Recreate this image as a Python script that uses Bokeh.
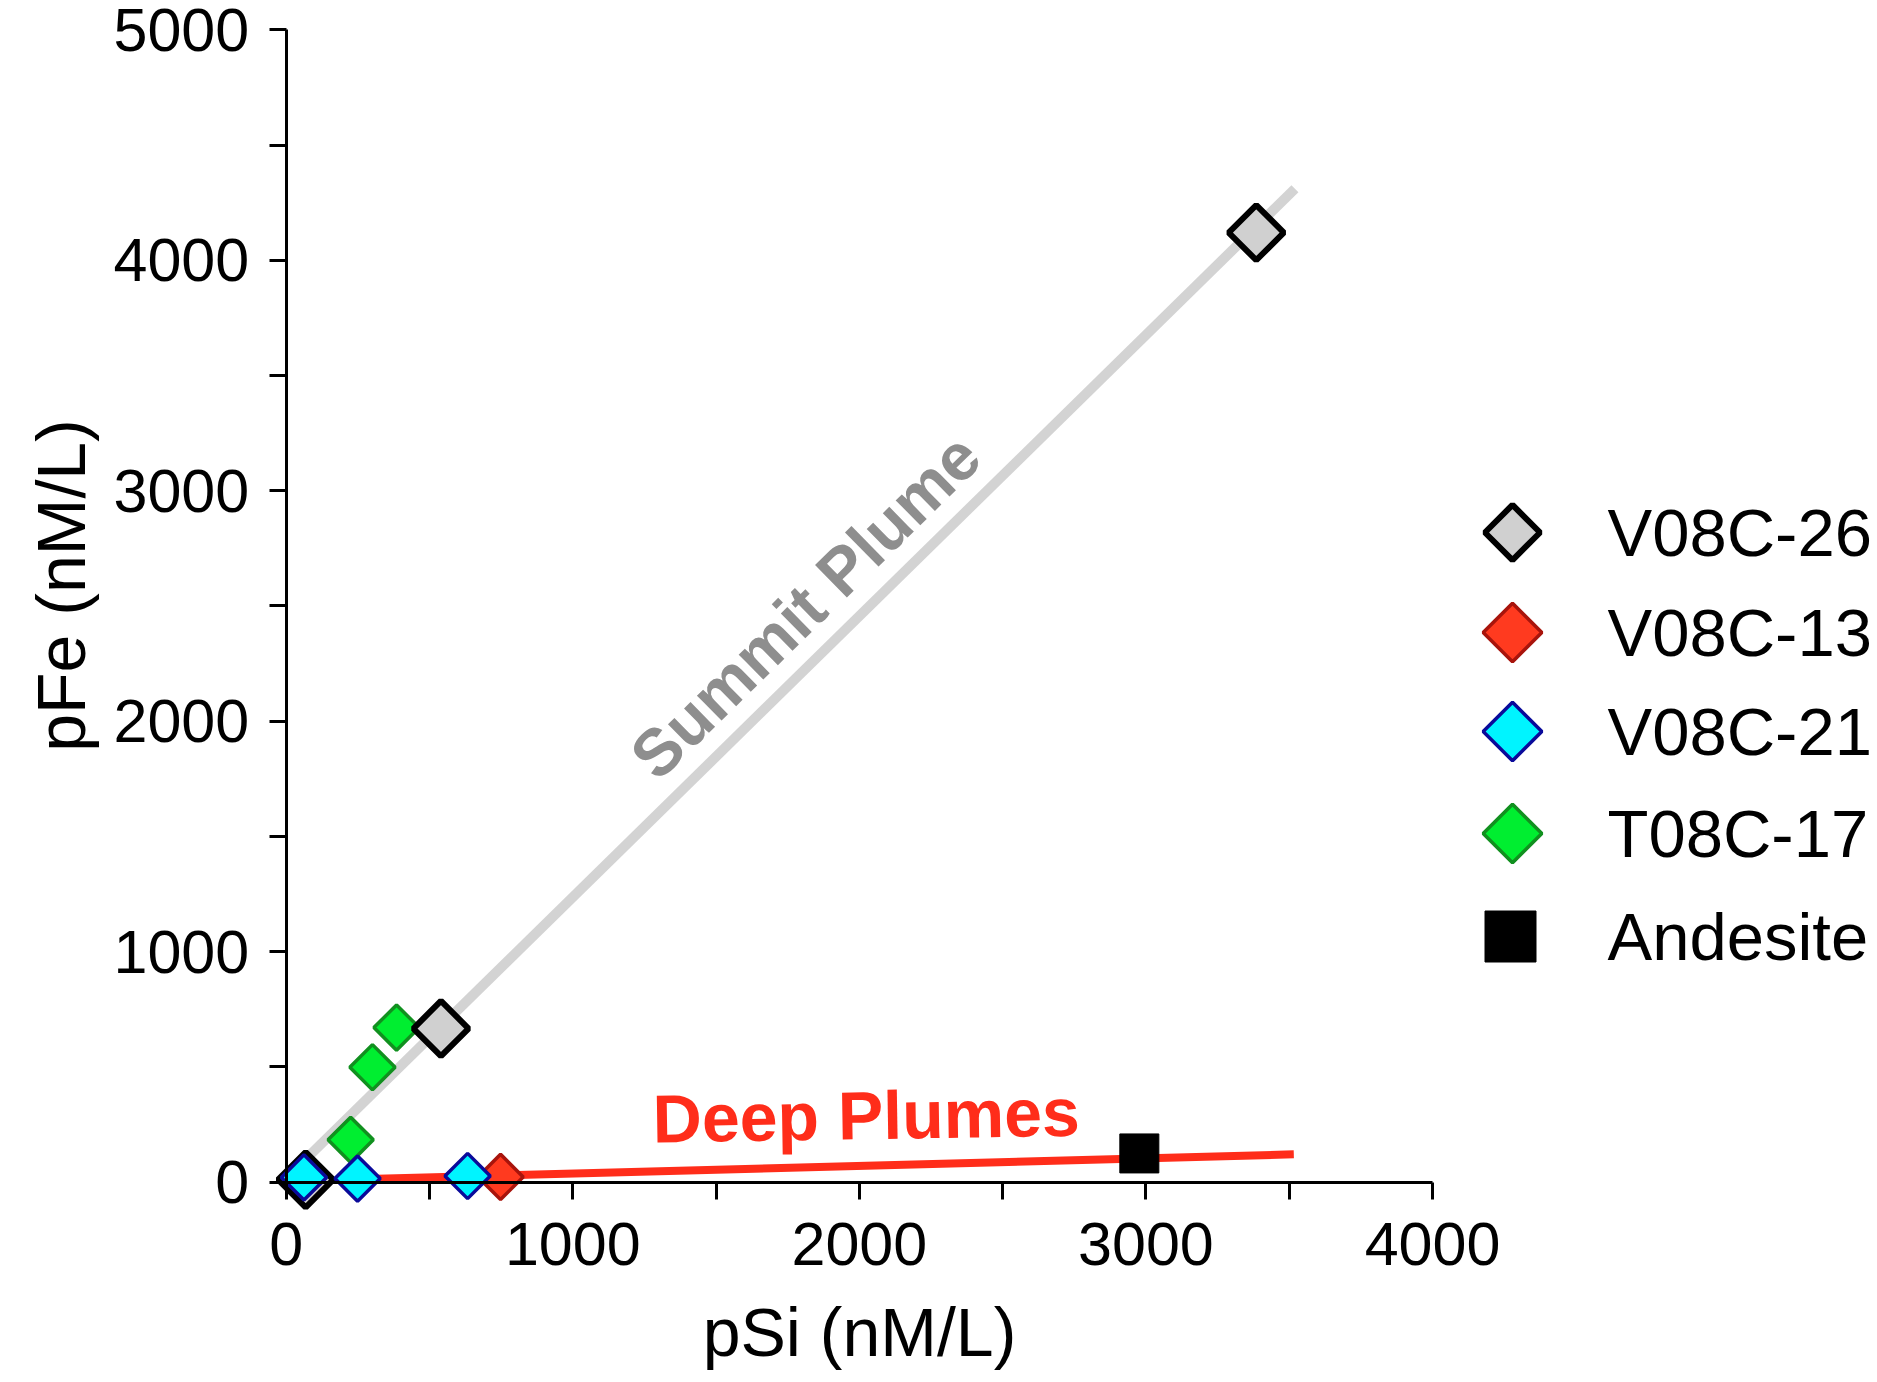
import numpy as np
from bokeh.plotting import figure
from bokeh.models import Range1d, FixedTicker
from bokeh.core.properties import value
from bokeh.embed import file_html
from bokeh.resources import INLINE

# ---- data (pSi, pFe in nM/L) ----
v26_si = [68, 540, 3385]
v26_fe = [10, 666, 4120]
v13_si = [748]
v13_fe = [22]
v21_si = [62, 249, 633]
v21_fe = [20, 15, 26]
t17_si = [225, 301, 385]
t17_fe = [183, 498, 670]
and_si = [2977]
and_fe = [124]
summit_si = [40, 3520]
summit_fe = [65, 4310]
deep_si = [250, 3516]
deep_fe = [12, 120]
x_ticks = [0, 500, 1000, 1500, 2000, 2500, 3000, 3500, 4000]
y_ticks = [0, 500, 1000, 1500, 2000, 2500, 3000, 3500, 4000, 4500, 5000]
x_labels = ["0", "", "1000", "", "2000", "", "3000", "", "4000"]
y_labels = ["0", "", "1000", "", "2000", "", "3000", "", "4000", "", "5000"]
legend_labels = ["V08C-26", "V08C-13", "V08C-21", "T08C-17", "Andesite"]

FONT = "Liberation Sans"
W, H = 1876, 1380

# frame covers the whole canvas; axes are fixed at the origin
X0PX, X4000PX = 285.7, 1432.0
Y0PX, Y5000PX = 1181.5, 29.3
kx = (X4000PX - X0PX) / 4000.0
ky = (Y0PX - Y5000PX) / 5000.0


def sx(px):
    return (px - X0PX) / kx


def sy(py):
    return (Y0PX - py) / ky


p = figure(width=W, height=H, title=None,
           x_range=Range1d(sx(0), sx(W)), y_range=Range1d(sy(H), sy(0)),
           output_backend="svg", toolbar_location=None,
           min_border=0, min_border_left=0, min_border_right=0,
           min_border_top=0, min_border_bottom=0)
p.outline_line_color = None
p.grid.visible = False
p.background_fill_color = "white"
p.border_fill_color = "white"

# trend lines
p.line(summit_si, summit_fe, line_color="#d3d3d3", line_width=10)
p.line(deep_si, deep_fe, line_color="#ff2d1a", line_width=8)

ang = np.pi / 4
styles = {
    "V08C-26": dict(fill_color="#d0d0d0", line_color="black", line_width=6),
    "V08C-13": dict(fill_color="#ff3a1f", line_color="#a8140c", line_width=3.5),
    "V08C-21": dict(fill_color="#00f4ff", line_color="#0a0a9a", line_width=3.5),
    "T08C-17": dict(fill_color="#00ee30", line_color="#11901f", line_width=3.5),
    "Andesite": dict(fill_color="black", line_color="black", line_width=1),
}

p.scatter(t17_si, t17_fe, marker="square", angle=ang, size=32, **styles["T08C-17"])
p.scatter(v26_si, v26_fe, marker="square", angle=ang, size=39, **styles["V08C-26"])
p.scatter(v13_si, v13_fe, marker="square", angle=ang, size=32, **styles["V08C-13"])
p.scatter(v21_si, v21_fe, marker="square", angle=ang, size=32, **styles["V08C-21"])
p.scatter(and_si, and_fe, marker="square", size=39, **styles["Andesite"])

# annotations
p.text(x=[1812], y=[2500], text=["Summit Plume"], angle=0.7767,
       text_align="center", text_baseline="middle",
       text_font=value(FONT), text_font_style="bold",
       text_font_size="66px", text_color="#8e8e8e")
p.text(x=[2024], y=[290], text=["Deep Plumes"], angle=0.016,
       text_align="center", text_baseline="middle",
       text_font=value(FONT), text_font_style="bold",
       text_font_size="68px", text_color="#ff2d1a")

# legend (drawn by hand so that diamonds stay diamonds)
row_py = [532, 632, 731, 833, 936]
for lab, py in zip(legend_labels, row_py):
    if lab == "Andesite":
        p.scatter([sx(1510)], [sy(py)], marker="square", size=51, **styles[lab])
    else:
        sz = 39 if lab == "V08C-26" else 41.5
        p.scatter([sx(1512)], [sy(py)], marker="square", angle=ang, size=sz, **styles[lab])
    p.text(x=[sx(1607)], y=[sy(py)], text=[lab], text_align="left",
           text_baseline="middle", text_font=value(FONT),
           text_font_size="67px", text_color="black")

# y axis title
p.text(x=[sx(60)], y=[sy(585)], text=["pFe (nM/L)"], angle=np.pi / 2,
       text_align="center", text_baseline="alphabetic",
       text_font=value(FONT), text_font_size="68px", text_color="black")

# axes
for ax in (p.xaxis[0], p.yaxis[0]):
    ax.fixed_location = 0
    ax.axis_line_width = 3
    ax.axis_line_color = "black"
    ax.major_tick_line_width = 3
    ax.major_tick_line_color = "black"
    ax.major_tick_in = 0
    ax.major_tick_out = 17
    ax.minor_tick_line_color = None
    ax.major_label_text_font = FONT
    ax.major_label_text_font_size = "61px"
    ax.major_label_text_color = "black"
    ax.axis_label_text_font = FONT
    ax.axis_label_text_font_size = "68px"
    ax.axis_label_text_font_style = "normal"
    ax.axis_label_text_color = "black"

p.xaxis[0].bounds = (0, 4000)
p.yaxis[0].bounds = (0, 5000)
p.xaxis[0].ticker = FixedTicker(ticks=x_ticks)
p.yaxis[0].ticker = FixedTicker(ticks=y_ticks)
p.xaxis[0].major_label_overrides = {t: l for t, l in zip(x_ticks, x_labels)}
p.yaxis[0].major_label_overrides = {t: l for t, l in zip(y_ticks, y_labels)}
p.xaxis[0].axis_label = "pSi (nM/L)"
p.xaxis[0].major_label_standoff = 24
p.yaxis[0].major_label_standoff = 20
p.xaxis[0].axis_label_standoff = 25

open("out.html", "w").write(file_html(p, INLINE))
